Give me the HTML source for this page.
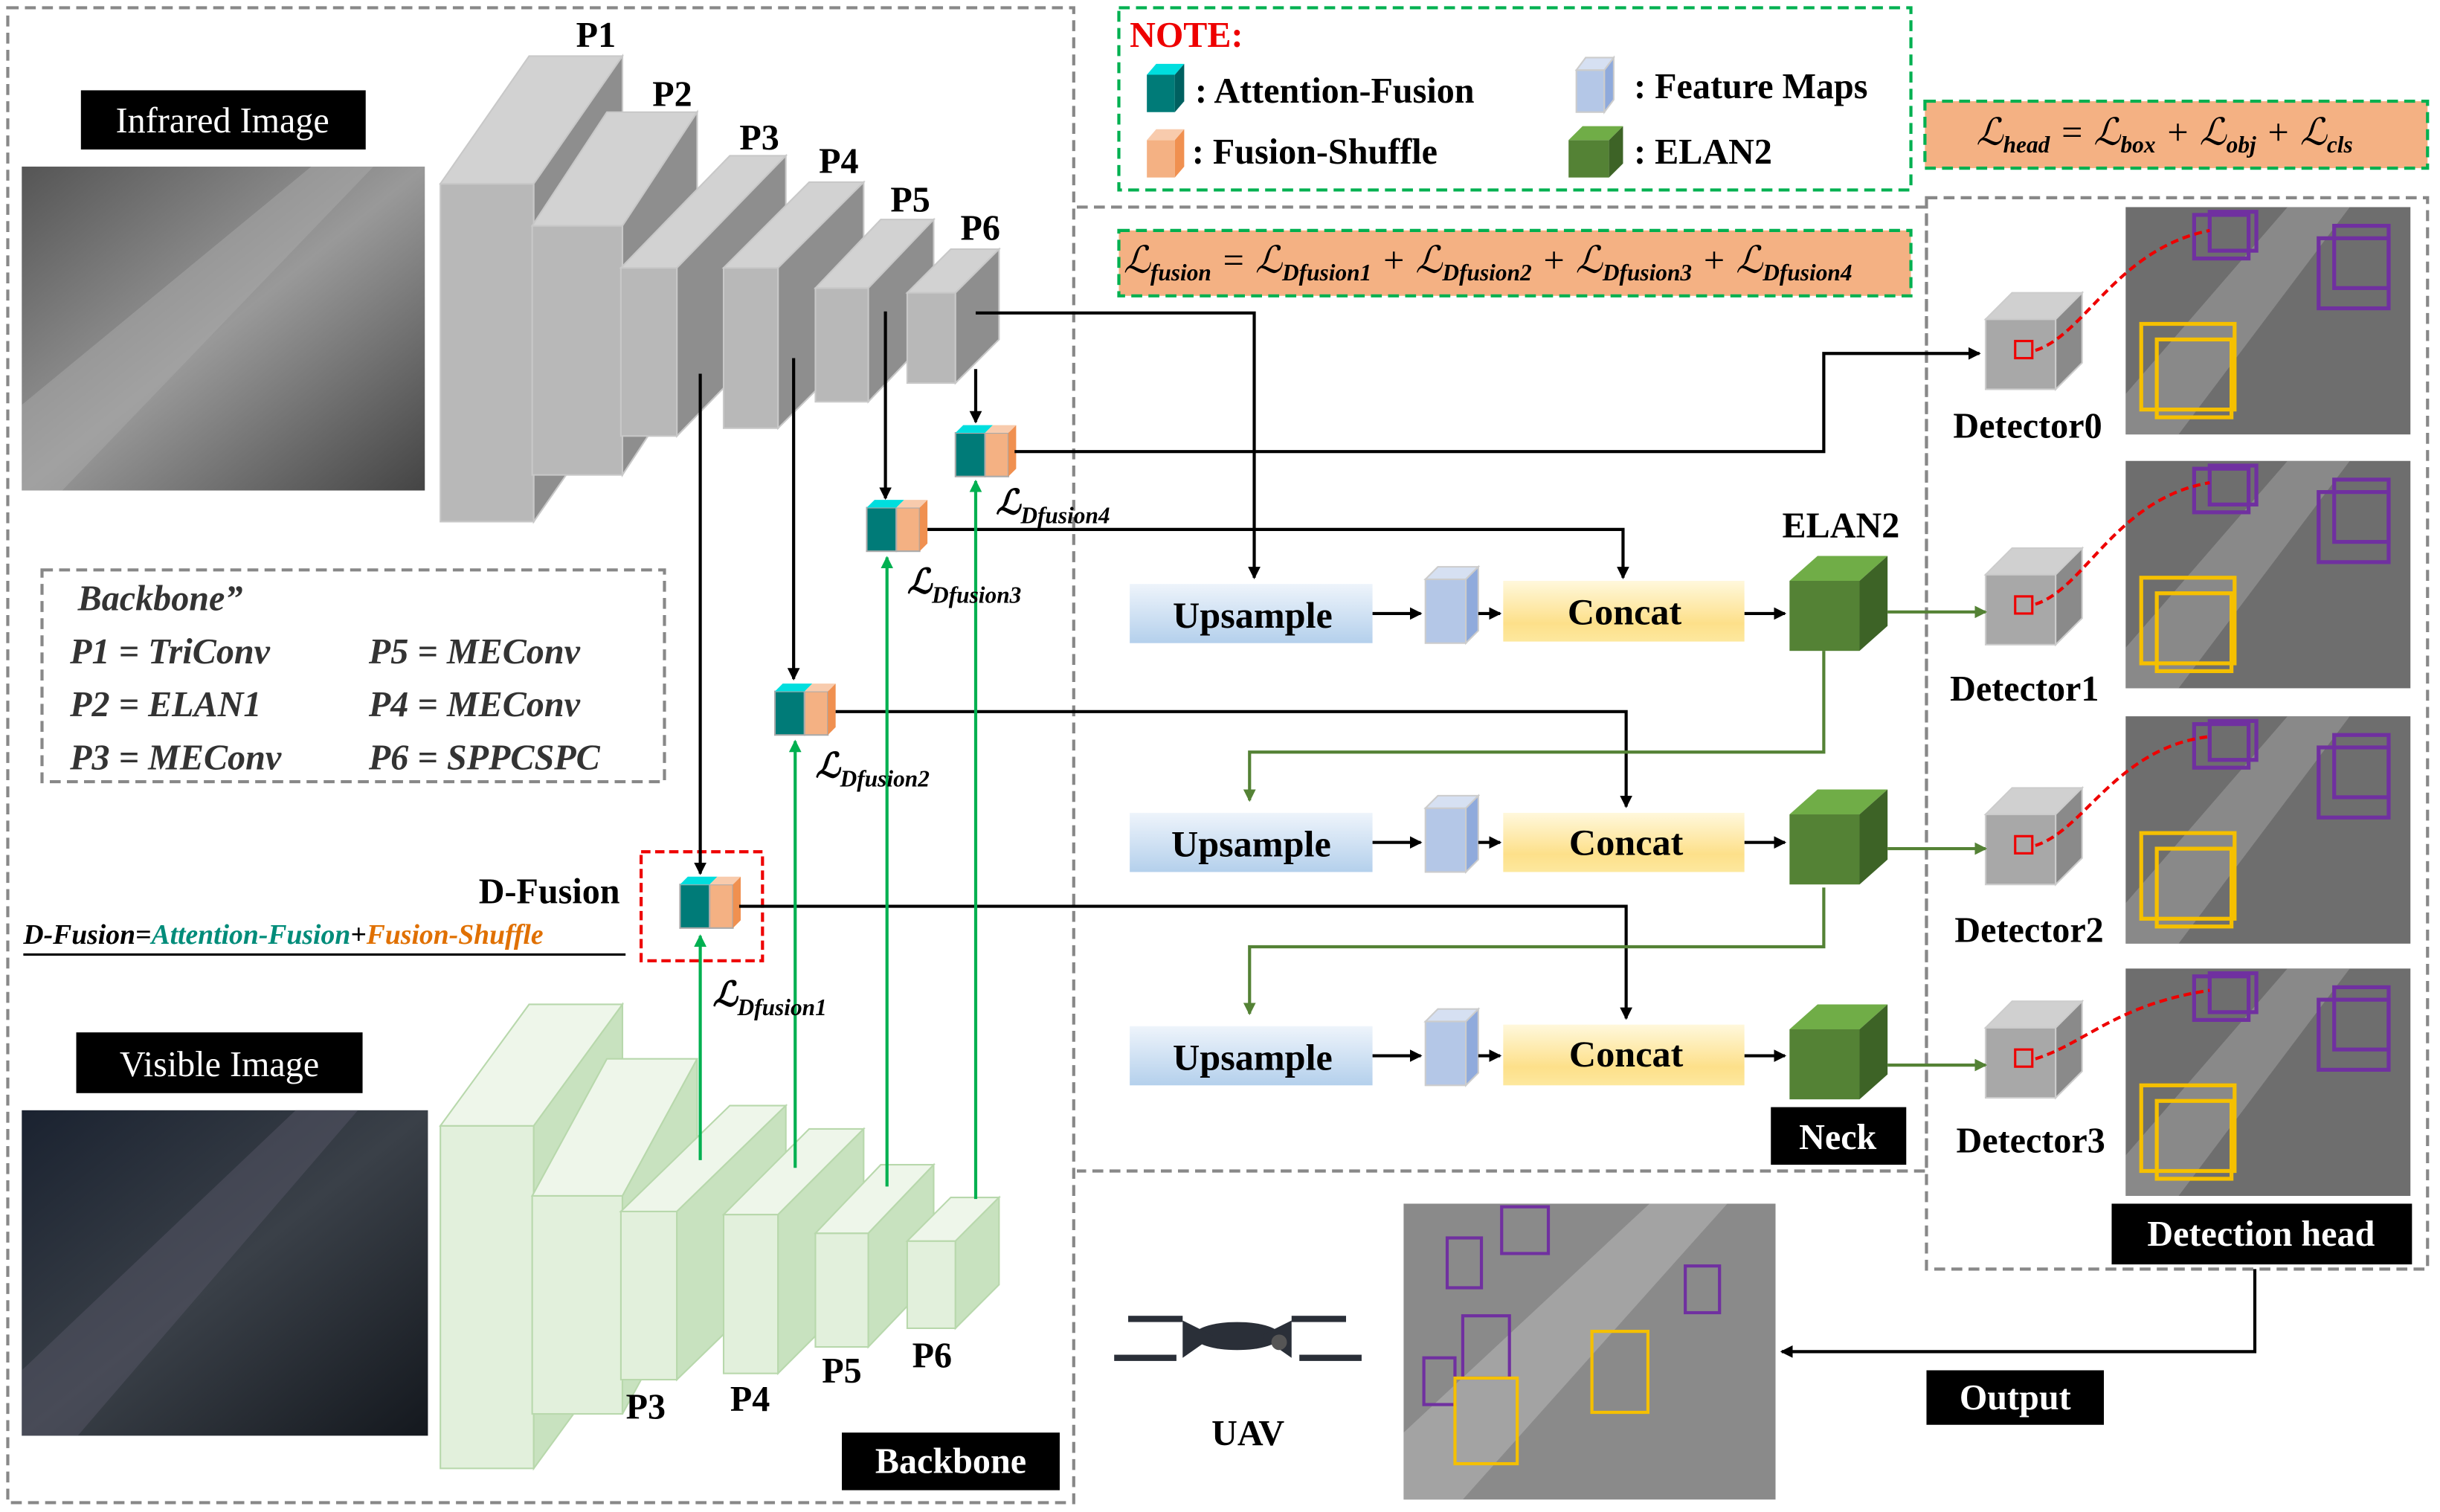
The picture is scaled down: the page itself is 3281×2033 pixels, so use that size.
<!DOCTYPE html>
<html><head><meta charset="utf-8"><style>
html,body{margin:0;padding:0;background:#fff;}
svg{display:block;}
text{font-family:"Liberation Serif","DejaVu Serif",serif;font-weight:bold;}
</style></head><body>
<svg id="s" width="3281" height="2033" viewBox="0 0 1568 971" preserveAspectRatio="none" xmlns="http://www.w3.org/2000/svg">
<defs>
<marker id="ab" markerWidth="8" markerHeight="8" refX="7" refY="4" orient="auto" markerUnits="userSpaceOnUse"><path d="M0,0 L8,4 L0,8z" fill="#000"/></marker>
<marker id="ag" markerWidth="8" markerHeight="8" refX="7" refY="4" orient="auto" markerUnits="userSpaceOnUse"><path d="M0,0 L8,4 L0,8z" fill="#00b050"/></marker>
<marker id="ao" markerWidth="8" markerHeight="8" refX="7" refY="4" orient="auto" markerUnits="userSpaceOnUse"><path d="M0,0 L8,4 L0,8z" fill="#548235"/></marker>
<linearGradient id="up" x1="0" y1="0" x2="0" y2="1"><stop offset="0" stop-color="#eef4fb"/><stop offset="1" stop-color="#b4d0ec"/></linearGradient>
<linearGradient id="cc" x1="0" y1="0" x2="0" y2="1"><stop offset="0" stop-color="#fff8dc"/><stop offset="0.7" stop-color="#fde08a"/><stop offset="1" stop-color="#fde89e"/></linearGradient>
<linearGradient id="ir" x1="0" y1="0" x2="1" y2="1"><stop offset="0" stop-color="#555"/><stop offset="0.5" stop-color="#999"/><stop offset="1" stop-color="#444"/></linearGradient>
<linearGradient id="vi" x1="0" y1="0" x2="1" y2="1"><stop offset="0" stop-color="#1a2230"/><stop offset="0.5" stop-color="#3a4048"/><stop offset="1" stop-color="#14181e"/></linearGradient>
</defs>
<rect x="5" y="5" width="685" height="960" fill="none" stroke="#888" stroke-width="2" stroke-dasharray="7,4"/>
<path d="M692,133 H1238 V752 H692" fill="none" stroke="#888" stroke-width="2" stroke-dasharray="7,4"/>
<rect x="1238" y="127" width="322" height="688" fill="none" stroke="#888" stroke-width="2" stroke-dasharray="7,4"/>
<rect x="719" y="5" width="509" height="117" fill="none" stroke="#00b050" stroke-width="2" stroke-dasharray="7,4"/>
<rect x="1237" y="65" width="323" height="43" fill="#f4b183" stroke="#00b050" stroke-width="2" stroke-dasharray="7,4"/>
<rect x="719" y="148" width="509" height="42" fill="#f4b183" stroke="#00b050" stroke-width="2" stroke-dasharray="7,4"/>
<rect x="27" y="366" width="400" height="136" fill="none" stroke="#888" stroke-width="2" stroke-dasharray="7,4"/>
<rect x="412" y="547" width="78" height="70" fill="none" stroke="#e00" stroke-width="2" stroke-dasharray="6,3"/>

<rect x="14" y="107" width="259" height="208" fill="url(#ir)"/>
<path d="M14,260 L200,107 L240,107 L40,315 L14,315Z" fill="#aaa" opacity="0.5"/>
<rect x="14" y="713" width="261" height="209" fill="url(#vi)"/>
<path d="M14,880 L190,713 L230,713 L50,922 L14,922Z" fill="#556" opacity="0.5"/>
<rect x="902" y="773" width="239" height="190" fill="#8a8a8a"/>
<path d="M902,920 L1060,773 L1110,773 L940,963 L902,963Z" fill="#bbb" opacity="0.5"/>

<g id="g"></g>

<g fill="none" stroke="#000" stroke-width="2">
<path d="M627,201 H806 V371" marker-end="url(#ab)"/>
<path d="M627,237 V271" marker-end="url(#ab)"/>
<path d="M569,200 V320" marker-end="url(#ab)"/>
<path d="M510,230 V436" marker-end="url(#ab)"/>
<path d="M450,240 V561" marker-end="url(#ab)"/>
<path d="M652,290 H1172 V227 H1272" marker-end="url(#ab)"/>
<path d="M596,340 H1043 V371" marker-end="url(#ab)"/>
<path d="M537,457 H1045 V518" marker-end="url(#ab)"/>
<path d="M475,582 H1045 V654" marker-end="url(#ab)"/>
<path d="M882,394 H913" marker-end="url(#ab)"/><path d="M950,394 H964" marker-end="url(#ab)"/><path d="M1121,394 H1147" marker-end="url(#ab)"/>
<path d="M882,541 H913" marker-end="url(#ab)"/><path d="M950,541 H964" marker-end="url(#ab)"/><path d="M1121,541 H1147" marker-end="url(#ab)"/>
<path d="M882,678 H913" marker-end="url(#ab)"/><path d="M950,678 H964" marker-end="url(#ab)"/><path d="M1121,678 H1147" marker-end="url(#ab)"/>
<path d="M1449,815 V868 H1145" marker-end="url(#ab)"/>
</g>
<g fill="none" stroke="#00b050" stroke-width="2">
<path d="M450,745 V601" marker-end="url(#ag)"/>
<path d="M511,750 V476" marker-end="url(#ag)"/>
<path d="M570,762 V358" marker-end="url(#ag)"/>
<path d="M627,770 V309" marker-end="url(#ag)"/>
</g>
<g fill="none" stroke="#548235" stroke-width="2">
<path d="M1213,393 H1276" marker-end="url(#ao)"/>
<path d="M1213,545 H1276" marker-end="url(#ao)"/>
<path d="M1213,684 H1276" marker-end="url(#ao)"/>
<path d="M1172,418 V483 H803 V514" marker-end="url(#ao)"/>
<path d="M1172,570 V608 H803 V651" marker-end="url(#ao)"/>
</g>
<g fill="none" stroke="#e00" stroke-width="2" stroke-dasharray="5,3">
<path d="M1308,225 C1340,215 1360,160 1420,148"/>
<path d="M1308,388 C1340,378 1360,320 1420,310"/>
<path d="M1308,543 C1340,533 1360,480 1420,473"/>
<path d="M1308,680 C1340,670 1360,645 1420,636"/>
</g>

<rect x="726" y="375" width="156" height="38" fill="url(#up)"/>
<rect x="726" y="522" width="156" height="38" fill="url(#up)"/>
<rect x="726" y="659" width="156" height="38" fill="url(#up)"/>
<rect x="966" y="373" width="155" height="39" fill="url(#cc)"/>
<rect x="966" y="522" width="155" height="38" fill="url(#cc)"/>
<rect x="966" y="658" width="155" height="39" fill="url(#cc)"/>
<g font-size="24" text-anchor="middle">
<text x="805" y="403">Upsample</text><text x="804" y="550">Upsample</text><text x="805" y="687">Upsample</text>
<text x="1044" y="401">Concat</text><text x="1045" y="549">Concat</text><text x="1045" y="685">Concat</text>
</g>

<rect x="52" y="58" width="183" height="38" fill="#000"/><text x="143" y="85" fill="#fff" font-size="23" text-anchor="middle" style="font-weight:normal">Infrared Image</text>
<rect x="49" y="663" width="184" height="39" fill="#000"/><text x="141" y="691" fill="#fff" font-size="23" text-anchor="middle" style="font-weight:normal">Visible Image</text>
<rect x="541" y="920" width="140" height="37" fill="#000"/><text x="611" y="946" fill="#fff" font-size="23" text-anchor="middle">Backbone</text>
<rect x="1138" y="711" width="87" height="37" fill="#000"/><text x="1181" y="738" fill="#fff" font-size="23" text-anchor="middle">Neck</text>
<rect x="1357" y="773" width="193" height="39" fill="#000"/><text x="1453" y="800" fill="#fff" font-size="23" text-anchor="middle">Detection head</text>
<rect x="1238" y="880" width="114" height="35" fill="#000"/><text x="1295" y="905" fill="#fff" font-size="23" text-anchor="middle">Output</text>

<g font-size="23" text-anchor="middle">
<text x="383" y="30">P1</text><text x="432" y="68">P2</text><text x="488" y="96">P3</text><text x="539" y="111">P4</text><text x="585" y="136">P5</text><text x="630" y="154">P6</text>
<text x="415" y="911">P3</text><text x="482" y="906">P4</text><text x="541" y="888">P5</text><text x="599" y="878">P6</text>
<text x="1183" y="345">ELAN2</text>
<text x="1303" y="281">Detector0</text><text x="1301" y="450">Detector1</text><text x="1304" y="605">Detector2</text><text x="1305" y="740">Detector3</text>
<text x="353" y="580">D-Fusion</text>
<text x="802" y="928">UAV</text>
</g>

<g font-size="23" style="font-style:italic;font-weight:normal" fill="#333">
<text x="50" y="392">Backbone”</text>
<text x="45" y="426">P1 = TriConv</text><text x="237" y="426">P5 = MEConv</text>
<text x="45" y="460">P2 = ELAN1</text><text x="237" y="460">P4 = MEConv</text>
<text x="45" y="494">P3 = MEConv</text><text x="237" y="494">P6 = SPPCSPC</text>
</g>
<text x="15" y="606" font-size="18" style="font-style:italic">D-Fusion=<tspan fill="#008c7a">Attention-Fusion</tspan>+<tspan fill="#e07000">Fusion-Shuffle</tspan></text>
<line x1="15" y1="613" x2="402" y2="613" stroke="#000" stroke-width="1.5"/>

<g font-size="22" style="font-style:italic">
<text x="640" y="330">ℒ<tspan font-size="15" dy="6">Dfusion4</tspan></text>
<text x="583" y="381">ℒ<tspan font-size="15" dy="6">Dfusion3</tspan></text>
<text x="524" y="499">ℒ<tspan font-size="15" dy="6">Dfusion2</tspan></text>
<text x="458" y="646">ℒ<tspan font-size="15" dy="6">Dfusion1</tspan></text>
</g>
<text x="722" y="175" font-size="24" style="font-style:italic;font-weight:normal">ℒ<tspan font-size="15" dy="5" font-weight="bold">fusion</tspan><tspan dy="-5"> = ℒ</tspan><tspan font-size="15" dy="5" font-weight="bold">Dfusion1</tspan><tspan dy="-5"> + ℒ</tspan><tspan font-size="15" dy="5" font-weight="bold">Dfusion2</tspan><tspan dy="-5"> + ℒ</tspan><tspan font-size="15" dy="5" font-weight="bold">Dfusion3</tspan><tspan dy="-5"> + ℒ</tspan><tspan font-size="15" dy="5" font-weight="bold">Dfusion4</tspan></text>
<text x="1270" y="93" font-size="24" style="font-style:italic;font-weight:normal">ℒ<tspan font-size="15" dy="5" font-weight="bold">head</tspan><tspan dy="-5"> = ℒ</tspan><tspan font-size="15" dy="5" font-weight="bold">box</tspan><tspan dy="-5"> + ℒ</tspan><tspan font-size="15" dy="5" font-weight="bold">obj</tspan><tspan dy="-5"> + ℒ</tspan><tspan font-size="15" dy="5" font-weight="bold">cls</tspan></text>

<text x="726" y="30" font-size="23" fill="#e00">NOTE:</text>
<g font-size="23">
<text x="768" y="66">:  Attention-Fusion</text>
<text x="766" y="105">:  Fusion-Shuffle</text>
<text x="1050" y="63">: Feature Maps</text>
<text x="1050" y="105">: ELAN2</text>
</g>

<g fill="#2a2f38">
<ellipse cx="795" cy="858" rx="28" ry="9"/>
<rect x="725" y="845" width="35" height="4"/><rect x="830" y="845" width="35" height="4"/>
<rect x="716" y="870" width="40" height="4"/><rect x="835" y="870" width="40" height="4"/>
<path d="M760,848 L780,858 L760,872Z"/><path d="M830,848 L810,858 L830,872Z"/>
<circle cx="822" cy="862" r="5" fill="#555"/>
</g>
</svg>
<script>
var NS="http://www.w3.org/2000/svg",g=document.getElementById('g');
function el(t,a){var e=document.createElementNS(NS,t);for(var k in a)e.setAttribute(k,a[k]);g.appendChild(e);return e;}
function cube(x,y,w,h,dx,dy,f,t,s,st){
 st=st||'none';
 el('rect',{x:x,y:y,width:w,height:h,fill:f,stroke:st});
 el('polygon',{points:[x,y,x+dx,y-dy,x+w+dx,y-dy,x+w,y].join(','),fill:t,stroke:st});
 el('polygon',{points:[x+w,y,x+w+dx,y-dy,x+w+dx,y+h-dy,x+w,y+h].join(','),fill:s,stroke:st});
}
var gr=[[283,118,60,217,57,82],[342,145,58,160,48,73],[399,172,36,108,70,72],[465,172,35,103,55,55],[524,185,34,73,42,44],[583,188,31,58,28,28]];
gr.forEach(function(b){cube(b[0],b[1],b[2],b[3],b[4],b[5],'#b8b8b8','#d2d2d2','#8e8e8e','#c8c8c8');});
var gn=[[283,723,60,220,57,78],[342,768,58,140,48,88],[399,778,36,108,70,68],[465,780,35,102,55,55],[524,792,34,73,42,44],[583,797,31,56,28,28]];
gn.forEach(function(b){cube(b[0],b[1],b[2],b[3],b[4],b[5],'#e2f0dc','#eef6ea','#c8e2bf','#b8d8ac');});
function fus(x,y){
 el('rect',{x:x,y:y+5,width:19,height:28,fill:'#007b78',stroke:'#aaa'});
 el('rect',{x:x+19,y:y+5,width:15,height:28,fill:'#f4b183',stroke:'#aaa'});
 el('polygon',{points:[x+34,y+5,x+39,y,x+39,y+28,x+34,y+33].join(','),fill:'#f09050'});
 el('polygon',{points:[x,y+5,x+5,y,x+24,y,x+19,y+5].join(','),fill:'#00dede'});
 el('polygon',{points:[x+19,y+5,x+24,y,x+39,y,x+34,y+5].join(','),fill:'#f8cbad'});
}
fus(614,273);fus(557,321);fus(498,439);fus(437,563);
cube(737,48,18,24,6,7,'#007b78','#00dede','#006060');
cube(737,90,18,24,6,7,'#f4b183','#f8cbad','#f09050');
cube(1013,45,18,27,6,8,'#b4c7e7','#d6e0f2','#8faadc','#ccc');
cube(1008,90,26,24,9,9,'#548235','#70ad47','#3d6326');
[364,511,648].forEach(function(y){cube(916,y+8,26,41,8,8,'#b4c7e7','#d6e0f2','#8faadc','#ccc');});
[[1150,373],[1150,523],[1150,661]].forEach(function(p){cube(p[0],p[1],45,45,18,16,'#548235','#70ad47','#3d6326');});
[205,369,523,660].forEach(function(y){cube(1276,y,45,45,17,17,'#a8a8a8','#d0d0d0','#8a8a8a','#ccc');el('rect',{x:1295,y:y+14,width:11,height:11,fill:'none',stroke:'#e00','stroke-width':1.5});});
[133,296,460,622].forEach(function(y,i){
 el('rect',{x:1366,y:y,width:183,height:146,fill:'#6e6e6e'});
 el('polygon',{points:[1366,y+120,1470,y,1510,y,1400,y+146,1366,y+146].join(','),fill:'#aaa',opacity:0.45});
 el('rect',{x:1376,y:y+75,width:60,height:55,fill:'none',stroke:'#f5c000','stroke-width':2.5});
 el('rect',{x:1386,y:y+85,width:48,height:50,fill:'none',stroke:'#f5c000','stroke-width':2.5});
 el('rect',{x:1410,y:y+5,width:35,height:28,fill:'none',stroke:'#7030a0','stroke-width':2.5});
 el('rect',{x:1420,y:y+3,width:30,height:25,fill:'none',stroke:'#7030a0','stroke-width':2.5});
 el('rect',{x:1490,y:y+20,width:45,height:45,fill:'none',stroke:'#7030a0','stroke-width':2.5});
 el('rect',{x:1500,y:y+12,width:35,height:40,fill:'none',stroke:'#7030a0','stroke-width':2.5});
});
[[930,795,22,32],[965,775,30,30],[940,845,30,40],[1083,813,22,30],[915,872,20,30]].forEach(function(b){el('rect',{x:b[0],y:b[1],width:b[2],height:b[3],fill:'none',stroke:'#7030a0','stroke-width':2});});
[[1023,855,36,52],[935,885,40,55]].forEach(function(b){el('rect',{x:b[0],y:b[1],width:b[2],height:b[3],fill:'none',stroke:'#f5c000','stroke-width':2});});
</script>
</body></html>
